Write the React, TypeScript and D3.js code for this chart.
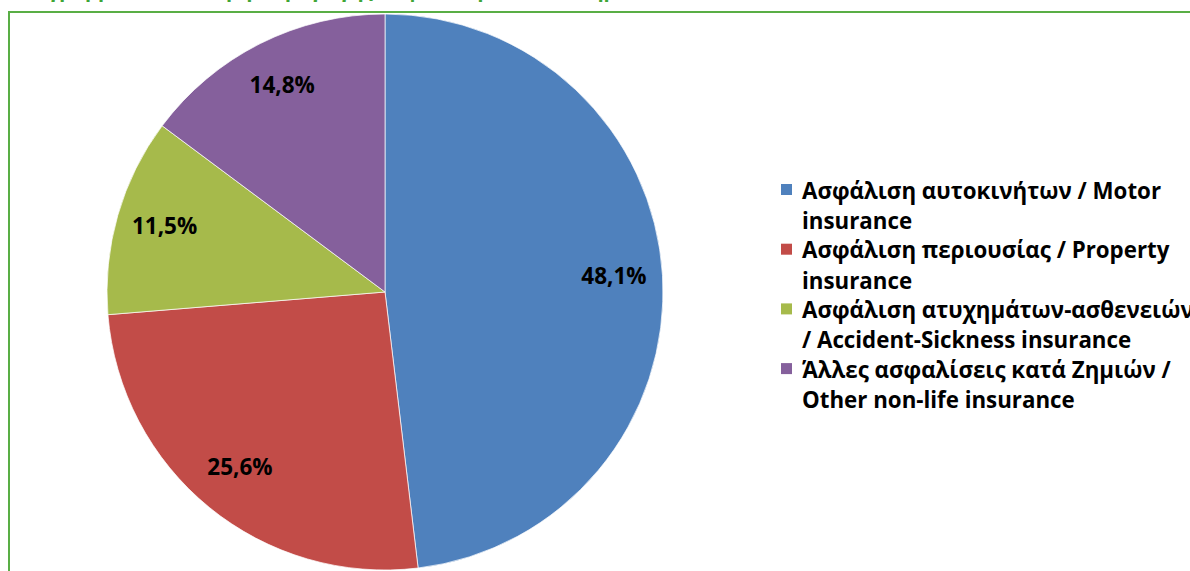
import React from "react";
import * as d3 from "d3";

const categories = [
  ["Ασφάλιση αυτοκινήτων / Motor", "insurance"],
  ["Ασφάλιση περιουσίας / Property", "insurance"],
  ["Ασφάλιση ατυχημάτων-ασθενειών", "/ Accident-Sickness insurance"],
  ["Άλλες ασφαλίσεις κατά Ζημιών /", "Other non-life insurance"],
];
const values = [48.1, 25.6, 11.5, 14.8];
const valueLabels = ["48,1%", "25,6%", "11,5%", "14,8%"];
const colors = ["#4F81BD", "#C24C48", "#A6BA4B", "#85609C"];
const title = "Διάγραμμα 3: Κατανομή παραγωγής ασφαλίστρων κατά Ζημιών";

const W = 1190;
const H = 571;
const FONT = "'Open Sans', sans-serif";

export default function App() {
  const cx = 385;
  const cy = 292;
  const R = 278;
  const pie = d3
    .pie<number>()
    .sort(null)
    .value((d) => d)
    .startAngle(0)
    .endAngle(2 * Math.PI);
  const arcs = pie(values);
  const arc = d3.arc<d3.PieArcDatum<number>>().innerRadius(0).outerRadius(R);
  const labelArc = d3
    .arc<d3.PieArcDatum<number>>()
    .innerRadius(R * 0.825)
    .outerRadius(R * 0.825);

  const legendX = 781;
  const legendY = 190;
  const lineH = 30.5;
  const itemH = 59.7;

  return (
    <svg
      width={W}
      height={H}
      style={{ position: "absolute", left: 0, top: 0, display: "block" }}
      fontFamily={FONT}
    >
      <rect width={W} height={H} fill="#fff" />
      <text x={14} y={-3} fill="#3FA535" fontWeight="bold" fontSize={20}>
        {title}
      </text>
      <rect
        x={9}
        y={12}
        width={W + 20}
        height={H + 20}
        fill="none"
        stroke="#59AE45"
        strokeWidth={2}
      />
      <g transform={`translate(${cx},${cy})`}>
        {arcs.map((a, i) => (
          <path key={i} d={arc(a) || ""} fill={colors[i]} stroke="#ffffff" strokeOpacity={0.7} strokeWidth={1} />
        ))}
        {arcs.map((a, i) => {
          const [x, y] = labelArc.centroid(a);
          return (
            <text
              key={i}
              x={x}
              y={y - 3}
              textAnchor="middle"
              dominantBaseline="central"
              fontWeight="bold"
              fontSize={22.5}
              fill="#000"
            >
              {valueLabels[i]}
            </text>
          );
        })}
      </g>
      <g>
        {categories.map((lines, i) => (
          <g key={i} transform={`translate(${legendX},${legendY + i * itemH})`}>
            <rect x={0} y={-6} width={11} height={11} fill={colors[i]} />
            {lines.map((t, j) => (
              <text
                key={j}
                x={21}
                y={j * lineH}
                dominantBaseline="central"
                fontWeight="bold"
                fontSize={22.3}
                fill="#000"
              >
                {t}
              </text>
            ))}
          </g>
        ))}
      </g>
    </svg>
  );
}
